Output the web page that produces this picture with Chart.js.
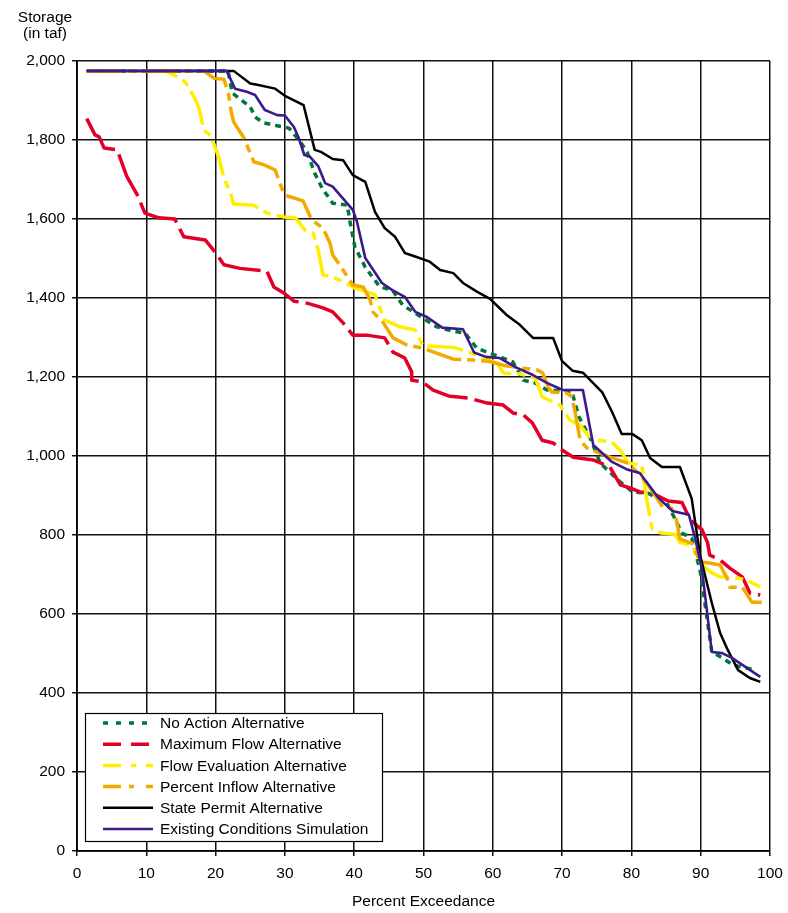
<!DOCTYPE html>
<html>
<head>
<meta charset="utf-8">
<script src="https://cdn.jsdelivr.net/npm/chart.js@4.4.1/dist/chart.umd.min.js"></script>
<style>
html,body{margin:0;padding:0;background:#fff;}
canvas{display:block;}
</style>
</head>
<body>
<canvas id="c" width="788" height="913"></canvas>
<script>
// ---- Data ----
const xTicks = [0, 10, 20, 30, 40, 50, 60, 70, 80, 90, 100];
const yTicks = [0, 200, 400, 600, 800, 1000, 1200, 1400, 1600, 1800, 2000];
const seriesNames = [
  "No Action Alternative",
  "Maximum Flow Alternative",
  "Flow Evaluation Alternative",
  "Percent Inflow Alternative",
  "State Permit Alternative",
  "Existing Conditions Simulation"
];
const yTitleLines = ["Storage", "(in taf)"];
const xTitle = "Percent Exceedance";

const noActionX = [1.4, 21.8, 22.4, 25, 25.7, 27, 28.9, 30.6, 32.2, 33.2, 34.3, 35.4, 36.9, 39, 39.4, 40.1, 41.6, 43.7, 45.5, 47, 49.9, 51.9, 54.3, 56, 57.7, 59.6, 61, 62.9, 64.4, 66.1, 67.8, 71.4, 72.4, 74, 75.5, 78.4, 80.2, 82.4, 85.1, 86, 87.3, 88.7, 89.9, 90.6, 91.6, 93.1, 94.7, 97.4];
const noActionY = [1975, 1975, 1919, 1884, 1858, 1843, 1836, 1830, 1796, 1770, 1716, 1677, 1640, 1635, 1592, 1529, 1478, 1428, 1420, 1382, 1349, 1327, 1316, 1311, 1273, 1260, 1251, 1238, 1192, 1185, 1167, 1164, 1100, 1048, 982, 934, 909, 906, 881, 851, 805, 792, 711, 628, 504, 489, 471, 460];

const maxFlowX = [1.4, 2.6, 3.2, 3.9, 5.8, 7.2, 8.7, 9.8, 11.8, 14.1, 15.4, 18.5, 19.9, 21.2, 23.5, 27.4, 28.4, 29.9, 31.3, 33.2, 35.5, 36.9, 38.4, 39.8, 41.8, 44.4, 45.6, 47.3, 48.3, 48.3, 49.8, 51.4, 53.6, 56.7, 59.2, 61.5, 62.9, 64.4, 65.7, 67.1, 68.7, 70, 71.6, 74.5, 76.9, 78.4, 79.8, 81.2, 83, 85.3, 87.3, 88.5, 90.2, 91, 91.3, 92.8, 94.2, 96, 97.1, 98.6];
const maxFlowY = [1854, 1813, 1808, 1780, 1775, 1707, 1661, 1615, 1603, 1600, 1555, 1547, 1517, 1484, 1475, 1468, 1428, 1412, 1392, 1387, 1375, 1365, 1337, 1306, 1306, 1299, 1263, 1248, 1213, 1192, 1188, 1167, 1152, 1146, 1134, 1129, 1109, 1104, 1084, 1040, 1033, 1015, 997, 990, 972, 927, 919, 909, 906, 886, 882, 838, 813, 780, 749, 737, 716, 694, 653, 648];

const flowEvalX = [1.4, 12.7, 14, 15.6, 16.9, 17.6, 18.3, 19.2, 19.9, 20.5, 21.2, 22.1, 22.6, 25.5, 27.4, 29.9, 31.5, 32.9, 34.1, 34.8, 35.5, 36.8, 38.4, 40.1, 41.8, 43, 43.7, 44.4, 46.6, 48.8, 49.9, 54.3, 56.3, 57.7, 60.6, 61.5, 63.9, 66.1, 66.8, 67.1, 69.7, 71.1, 72.6, 73.7, 75.2, 77.2, 78.6, 79.5, 81.5, 81.7, 82.4, 83, 84.3, 86.3, 87, 88.7, 90.2, 91.6, 92.8, 95.2, 96.7, 98.6];
const flowEvalY = [1975, 1975, 1965, 1947, 1909, 1881, 1825, 1813, 1783, 1754, 1704, 1669, 1638, 1635, 1615, 1605, 1603, 1572, 1564, 1522, 1458, 1454, 1441, 1425, 1416, 1408, 1375, 1344, 1327, 1319, 1279, 1275, 1264, 1256, 1235, 1210, 1208, 1198, 1167, 1150, 1129, 1091, 1078, 1053, 1040, 1035, 1010, 982, 977, 947, 871, 815, 805, 802, 781, 774, 724, 704, 694, 691, 686, 668];

const pctInflowX = [1.4, 18.3, 19.8, 21.2, 21.9, 22.2, 22.6, 24.1, 25.5, 27, 28.6, 29.9, 32.6, 33.9, 35.5, 36.5, 36.9, 38.4, 39.8, 41.3, 42.3, 42.7, 44.2, 45.6, 47.6, 49.9, 54.3, 57.1, 59.4, 61.5, 63.9, 66.4, 67.2, 68, 68.5, 70.7, 71.4, 71.9, 72.6, 73.6, 76.9, 79.5, 81, 82.2, 83.5, 84.5, 85.8, 86.5, 87, 88.8, 89.9, 91.3, 92.8, 93.8, 94.2, 96, 97.4, 98.8];
const pctInflowY = [1975, 1975, 1956, 1954, 1914, 1876, 1846, 1805, 1745, 1737, 1724, 1661, 1646, 1597, 1577, 1539, 1509, 1471, 1433, 1428, 1395, 1365, 1337, 1299, 1281, 1273, 1245, 1243, 1240, 1230, 1223, 1218, 1210, 1175, 1162, 1159, 1150, 1109, 1040, 1020, 997, 982, 957, 932, 898, 871, 868, 838, 790, 778, 732, 729, 724, 691, 668, 668, 630, 630];

const statePermitX = [1.4, 22.6, 25, 26, 28.6, 30, 32.7, 34.3, 35.2, 36.9, 38.4, 39.8, 41.6, 43, 44.4, 45.9, 47.3, 48.8, 50.9, 52.4, 54.3, 55.7, 57.7, 59.6, 62, 63.9, 65.8, 68.7, 70, 71.5, 73, 75.8, 77.2, 78.6, 80.1, 81.5, 82.7, 84.4, 87, 88.7, 89.9, 91.6, 92.8, 93.9, 95.4, 97.1, 98.6];
const statePermitY = [1975, 1975, 1943, 1940, 1930, 1912, 1888, 1775, 1770, 1752, 1749, 1711, 1694, 1618, 1577, 1555, 1514, 1505, 1492, 1471, 1463, 1438, 1416, 1398, 1357, 1332, 1299, 1299, 1240, 1216, 1211, 1161, 1112, 1056, 1056, 1040, 995, 972, 972, 892, 750, 628, 552, 509, 458, 438, 428];

const existingX = [1.4, 21.6, 22.8, 24.5, 25.7, 27.1, 28.9, 30, 31.3, 32, 32.8, 33.6, 34.8, 35.8, 36.9, 39.8, 40.4, 41.6, 42.3, 44, 45.5, 47.3, 48.8, 50.5, 52.7, 55.7, 57.3, 59, 61, 63.5, 65.8, 67.8, 70.1, 73, 74.5, 77.2, 79.5, 81.2, 82.7, 83.8, 85.9, 88.3, 89.2, 90.2, 91.6, 93.1, 94.5, 98.6];
const existingY = [1975, 1975, 1930, 1922, 1914, 1876, 1863, 1862, 1833, 1805, 1762, 1758, 1734, 1691, 1682, 1623, 1593, 1501, 1483, 1438, 1420, 1403, 1365, 1352, 1325, 1321, 1262, 1251, 1248, 1223, 1205, 1185, 1167, 1167, 1028, 985, 965, 957, 922, 896, 861, 851, 792, 711, 504, 501, 489, 441];

// ---- Styles ----
const FONT_FAMILY = "'Liberation Sans', Arial, Helvetica, sans-serif";
const FONT_SIZE = 15.5;
const styles = [
  { color: '#00773a', width: 3.5, dash: [6, 5],          legendDash: [5, 8] },
  { color: '#e2002b', width: 3.5, dash: [46, 7],         legendDash: [18, 10] },
  { color: '#ffee00', width: 3.5, dash: [36, 6, 8, 6],   legendDash: [18, 10, 5, 10] },
  { color: '#f2aa00', width: 3.5, dash: [36, 6, 8, 6],   legendDash: [18, 8, 5, 12] },
  { color: '#000000', width: 2.5, dash: [],              legendDash: [] },
  { color: '#3d1a8c', width: 2.6, dash: [],              legendDash: [] }
];

const seriesX = [noActionX, maxFlowX, flowEvalX, pctInflowX, statePermitX, existingX];
const seriesY = [noActionY, maxFlowY, flowEvalY, pctInflowY, statePermitY, existingY];

const datasets = seriesNames.map((name, i) => ({
  label: name,
  data: seriesX[i].map((x, k) => ({ x: x, y: seriesY[i][k] })),
  borderColor: styles[i].color,
  backgroundColor: styles[i].color,
  borderWidth: styles[i].width,
  borderDash: styles[i].dash,
  legendDash: styles[i].legendDash,
  borderCapStyle: 'butt',
  borderJoinStyle: 'round',
  pointRadius: 0,
  tension: 0,
  fill: false,
  order: seriesNames.length - 1 - i
}));

const fontSpec = { family: FONT_FAMILY, size: FONT_SIZE };

const overlayPlugin = {
  id: 'overlay',
  afterDraw(chart) {
    const ctx = chart.ctx;
    const a = chart.chartArea;
    ctx.save();
    // y axis title (above the axis)
    ctx.fillStyle = '#000';
    ctx.font = FONT_SIZE + 'px ' + FONT_FAMILY;
    ctx.textAlign = 'center';
    ctx.textBaseline = 'middle';
    yTitleLines.forEach((t, i) => ctx.fillText(t, 45, 18 + i * 16));

    // boxed legend inside the plot
    const x0 = a.left + 8, y0 = a.bottom - 138, w = 297, h = 128;
    ctx.fillStyle = '#fff';
    ctx.fillRect(x0, y0, w, h);
    ctx.strokeStyle = '#000';
    ctx.lineWidth = 1.2;
    ctx.setLineDash([]);
    ctx.strokeRect(x0 + 0.5, y0 + 0.5, w, h);
    chart.data.datasets.forEach((ds, i) => {
      const cy = y0 + 10 + i * 21.2;
      ctx.beginPath();
      ctx.setLineDash(ds.legendDash);
      ctx.strokeStyle = ds.borderColor;
      ctx.lineWidth = ds.borderWidth;
      ctx.lineCap = 'butt';
      ctx.moveTo(x0 + 18, cy);
      ctx.lineTo(x0 + 68, cy);
      ctx.stroke();
      ctx.setLineDash([]);
      ctx.fillStyle = '#000';
      ctx.textAlign = 'left';
      ctx.textBaseline = 'middle';
      ctx.fillText(ds.label, x0 + 75, cy + 1);
    });
    ctx.restore();
  }
};

new Chart(document.getElementById('c'), {
  type: 'line',
  data: { datasets: datasets },
  options: {
    responsive: false,
    animation: false,
    devicePixelRatio: 1,
    layout: { padding: { top: 61, right: 18, left: 0, bottom: 0 } },
    plugins: { legend: { display: false }, tooltip: { enabled: false }, title: { display: false } },
    scales: {
      x: {
        type: 'linear',
        min: xTicks[0],
        max: xTicks[xTicks.length - 1],
        afterBuildTicks: s => { s.ticks = xTicks.map(v => ({ value: v })); },
        afterFit: s => { s.height = 62; s.paddingLeft = 0; s.paddingRight = 0; },
        ticks: { color: '#000', font: fontSpec, padding: 8, maxRotation: 0, callback: v => String(v) },
        grid: { color: '#111', lineWidth: 1.5, tickLength: 5, drawTicks: true },
        border: { color: '#000', width: 1.8 },
        title: { display: true, text: xTitle, color: '#000', font: fontSpec, padding: { top: 4, bottom: 2 } }
      },
      y: {
        type: 'linear',
        min: yTicks[0],
        max: yTicks[yTicks.length - 1],
        afterBuildTicks: s => { s.ticks = yTicks.map(v => ({ value: v })); },
        afterFit: s => { s.width = 77; s.paddingTop = 0; s.paddingBottom = 0; },
        ticks: { color: '#000', font: fontSpec, padding: 7, callback: v => Number(v).toLocaleString('en-US') },
        grid: { color: '#111', lineWidth: 1.5, tickLength: 5, drawTicks: true },
        border: { color: '#000', width: 1.8 }
      }
    }
  },
  plugins: [overlayPlugin]
});
</script>
</body>
</html>
